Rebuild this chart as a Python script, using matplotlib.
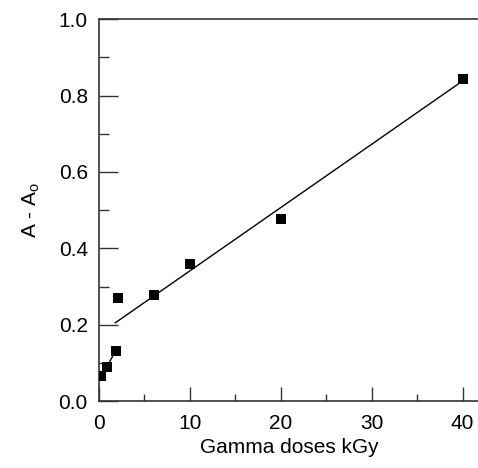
import numpy as np
import matplotlib.pyplot as plt
from matplotlib.ticker import MultipleLocator

plt.rcParams['font.family'] = ['Liberation Sans', 'DejaVu Sans']

# Data
dose = [0.2, 0.85, 1.85, 2.1, 6.1, 10.0, 20.0, 40.0]
absorb = [0.065, 0.089, 0.132, 0.270, 0.279, 0.360, 0.476, 0.843]

# fitted lines (endpoints)
low_fit_x = [0.85, 1.85]
low_fit_y = [0.089, 0.132]
high_fit_x = [1.8, 39.5]
high_fit_y = [0.205, 0.830]

fig = plt.figure(figsize=(4.78, 4.68), dpi=100)
ax = fig.add_axes([0.207, 0.143, 0.795, 0.816])

ax.plot(low_fit_x, low_fit_y, color='black', lw=1)
ax.plot(high_fit_x, high_fit_y, color='black', lw=1)
ax.plot(dose, absorb, 's', color='black', markersize=7.5, markeredgewidth=0, zorder=3)

ax.set_xlim(0, 41.8)
ax.set_ylim(0, 1.0)
ax.xaxis.set_major_locator(MultipleLocator(10))
ax.xaxis.set_minor_locator(MultipleLocator(5))
ax.yaxis.set_major_locator(MultipleLocator(0.2))
ax.yaxis.set_minor_locator(MultipleLocator(0.1))
ax.yaxis.set_major_formatter(plt.FormatStrFormatter('%.1f'))

ax.tick_params(which='both', direction='in', labelsize=15, color='#333333')
ax.tick_params(which='major', length=10, width=1)
ax.tick_params(which='minor', length=5, width=1)
ax.tick_params(axis='y', which='major', length=14)
ax.tick_params(axis='y', which='minor', length=7)
ax.tick_params(axis='x', pad=9)
ax.tick_params(axis='y', pad=8)

ax.spines['right'].set_visible(False)
for s in ['left', 'bottom', 'top']:
    ax.spines[s].set_color('#333333')
    ax.spines[s].set_linewidth(1.2)

ax.set_xlabel('Gamma doses kGy', fontsize=15, labelpad=4)
ax.set_ylabel('A - A$_\\mathregular{o}$', fontsize=15, labelpad=12)

plt.savefig('out.png', dpi=100)
